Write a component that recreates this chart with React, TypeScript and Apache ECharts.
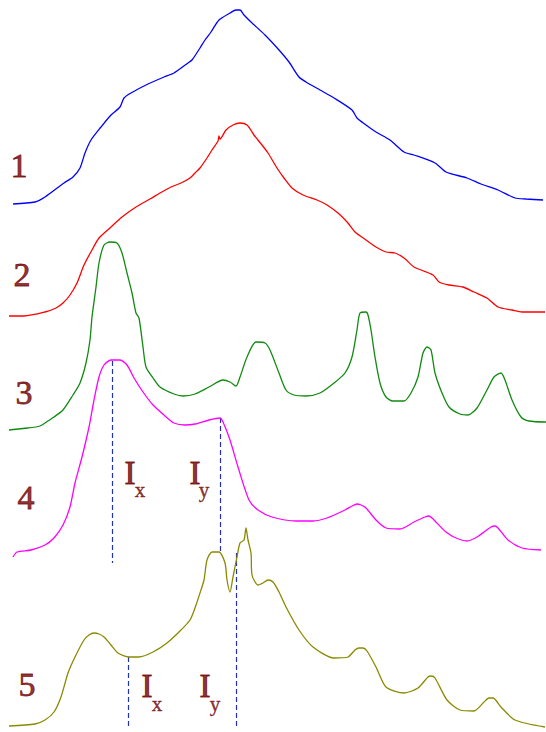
import React, { useEffect, useRef } from "react";
import * as echarts from "echarts";

// Stacked spectra: x is the channel position, y runs downward (inverted axis),
// so each trace sits in its own band of the plot.
const trace1: number[][] = [
  [13, 204], [35, 202], [45, 197], [64, 183], [73, 177], [80, 168], [85, 153], [91, 140],
  [101, 127], [111, 115], [120, 107], [124, 98], [131, 93], [146, 85], [164, 77], [174, 73],
  [188, 63], [192, 60], [200, 48], [205, 40], [211, 32], [219, 20], [230, 13], [236, 10],
  [240, 10], [244, 15], [251, 22], [265, 35], [279, 50], [289, 62], [299, 77], [306, 82],
  [320, 90], [334, 98], [352, 110], [357, 118], [366, 125], [376, 132], [390, 140], [404, 152],
  [414, 155], [435, 163], [446, 172], [467, 178], [481, 184], [498, 190], [515, 198], [526, 199],
  [543, 200],
];

const trace2: number[][] = [
  [9, 316], [24, 316], [45, 312], [56, 308], [63, 303], [70, 295], [77, 283], [84, 265],
  [92, 250], [99, 238], [111, 227], [122, 217], [136, 207], [150, 199], [160, 193], [171, 187],
  [181, 183], [190, 178], [195, 173], [200, 168], [207, 158], [212, 150], [218, 141], [219, 136],
  [220, 139], [226, 130], [233, 125], [240, 123], [247, 125], [254, 135], [258, 140], [268, 153],
  [277, 168], [284, 178], [292, 188], [303, 195], [317, 200], [327, 205], [338, 213], [348, 223],
  [355, 232], [366, 240], [376, 247], [386, 252], [395, 253], [404, 258], [414, 267], [421, 270],
  [433, 275], [439, 282], [449, 285], [463, 287], [474, 292], [487, 298], [498, 307], [512, 310],
  [522, 312], [545, 312],
];

const trace3: number[][] = [
  [9, 430], [28, 428], [40, 426], [45, 423], [54, 417], [63, 410], [73, 395], [80, 383],
  [86, 363], [90, 340], [92, 317], [96, 287], [99, 263], [104, 245], [110, 242], [117, 243],
  [122, 253], [127, 273], [132, 293], [136, 313], [139, 318], [143, 347], [146, 367], [153, 378],
  [160, 387], [174, 394], [183, 396], [195, 394], [209, 387], [223, 380], [230, 382], [236, 386],
  [240, 377], [247, 357], [256, 342], [265, 343], [270, 350], [279, 373], [286, 390], [294, 395],
  [306, 396], [320, 393], [334, 383], [345, 373], [352, 357], [357, 330], [360, 313], [366, 312],
  [368, 315], [371, 330], [375, 357], [380, 383], [386, 397], [393, 401], [404, 401], [411, 393],
  [418, 377], [423, 353], [427, 347], [431, 350], [435, 373], [442, 393], [449, 407], [460, 414],
  [468, 415], [477, 408], [487, 390], [494, 377], [501, 373], [505, 380], [512, 400], [521, 417],
  [529, 421], [546, 422],
];

const trace4: number[][] = [
  [13, 557], [17, 552], [31, 550], [45, 545], [54, 538], [63, 525], [70, 507], [75, 483],
  [82, 457], [89, 427], [94, 400], [99, 377], [104, 365], [111, 360], [120, 360], [127, 365],
  [134, 378], [143, 392], [153, 405], [164, 415], [174, 423], [185, 425], [195, 424], [209, 420],
  [220, 418], [223, 422], [230, 440], [238, 467], [249, 500], [258, 510], [272, 517], [296, 521],
  [313, 521], [327, 518], [345, 510], [352, 506], [357, 504], [361, 505], [366, 508], [376, 520],
  [386, 528], [400, 529], [414, 522], [425, 517], [429, 516], [432, 518], [446, 532], [456, 538],
  [467, 541], [477, 537], [491, 527], [495, 526], [498, 528], [508, 540], [522, 548], [541, 550],
];

const trace5: number[][] = [
  [9, 726], [35, 724], [45, 720], [54, 712], [61, 697], [68, 673], [75, 657], [84, 640],
  [89, 635], [94, 633], [99, 634], [104, 637], [111, 645], [118, 653], [129, 657], [139, 657],
  [153, 652], [167, 643], [181, 630], [190, 620], [195, 608], [200, 593], [204, 580], [207, 560],
  [212, 552], [219, 552], [225, 563], [227, 580], [230, 592], [233, 577], [237, 557], [240, 543],
  [244, 540], [246, 528], [248, 540], [251, 553], [252, 575], [258, 585], [263, 583], [268, 580],
  [273, 582], [279, 592], [286, 607], [299, 630], [313, 647], [334, 658], [348, 657], [355, 650],
  [359, 648], [363, 648], [367, 651], [376, 667], [386, 687], [404, 693], [418, 688], [428, 677],
  [431, 676], [435, 678], [447, 700], [460, 710], [474, 711], [484, 702], [489, 698], [493, 698],
  [501, 707], [515, 720], [545, 727],
];

const traces = [trace1, trace2, trace3, trace4, trace5];
const traceColors = ["#0000ff", "#ff0000", "#108a10", "#ff00ff", "#8a8a00"];

// Trace numbers: [x, y, text]
const traceLabels: (number | string)[][] = [
  [19, 165, "1"], [22, 274, "2"], [24, 392, "3"], [26, 497, "4"], [27, 684, "5"],
];

// Intensity markers: dashed drop lines [x, yTop, yBottom]
const dropLines: number[][] = [
  [112.5, 361, 563], [220.5, 418, 552], [128.5, 657, 727], [236.5, 553, 727],
];

// Marker letters: [x, y, text] and subscripts
const markerLetters: (number | string)[][] = [
  [130, 473, "I"], [195, 473, "I"], [147, 686, "I"], [205, 686, "I"],
];
const markerSubs: (number | string)[][] = [
  [140, 490, "x"], [204, 490, "y"], [157, 704, "x"], [215, 704, "y"],
];

const W = 546;
const H = 732;
const textColor = "#700000";
const serif = "'Liberation Serif', 'Times New Roman', serif";

export default function App() {
  const ref = useRef<HTMLDivElement>(null);

  useEffect(() => {
    if (!ref.current) return;
    const chart = echarts.init(ref.current, null, { renderer: "svg" });

    const lineSeries = traces.map((d, i) => ({
      type: "line",
      data: d,
      symbol: "none",
      smooth: 0.25,
      lineStyle: { color: traceColors[i], width: 1.3 },
      z: 3,
    }));

    const dashSeries = dropLines.map((l) => ({
      type: "line",
      data: [[l[0], l[1]], [l[0], l[2]]],
      symbol: "none",
      lineStyle: { color: "#2233aa", width: 1.2, type: [5, 3] },
      z: 2,
    }));

    const textSeries = (
      data: (number | string)[][],
      size: number,
      border: number
    ) => ({
      type: "scatter",
      data,
      symbolSize: 0,
      silent: true,
      label: {
        show: true,
        position: "inside",
        formatter: (p: any) => String(p.value[2]),
        color: textColor,
        fontFamily: serif,
        fontSize: size,
        align: "center",
        verticalAlign: "middle",
        textBorderColor: textColor,
        textBorderWidth: border,
      },
      z: 4,
    });

    chart.setOption({
      animation: false,
      backgroundColor: "#ffffff",
      grid: { left: 0, right: 0, top: 0, bottom: 0 },
      xAxis: { type: "value", min: 0, max: W, show: false },
      yAxis: { type: "value", min: 0, max: H, inverse: true, show: false },
      series: [
        ...dashSeries,
        ...lineSeries,
        textSeries(traceLabels, 34, 0.8),
        textSeries(markerLetters, 33, 1),
        textSeries(markerSubs, 21, 0.4),
      ],
    });

    return () => chart.dispose();
  }, []);

  return (
    <div
      ref={ref}
      style={{ position: "fixed", left: 0, top: 0, width: W, height: H, background: "#fff" }}
    />
  );
}
